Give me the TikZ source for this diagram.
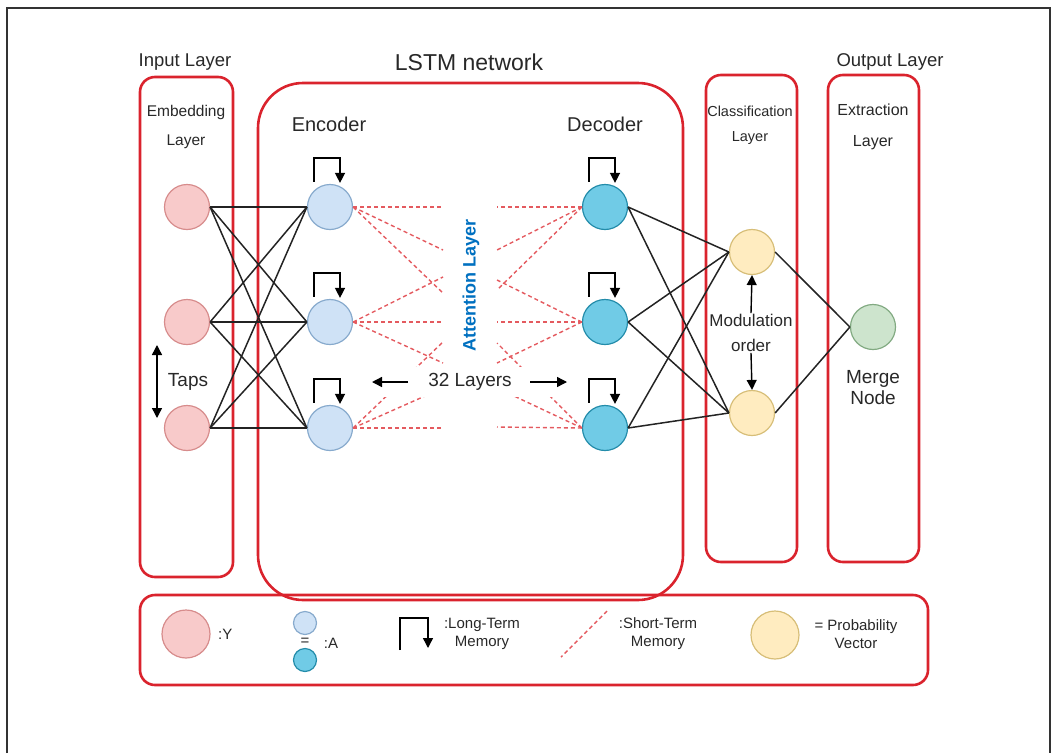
\documentclass[tikz,border=0pt]{standalone}
\usepackage{fontspec}
\setmainfont{Liberation Sans}
\usetikzlibrary{arrows.meta,calc}

\definecolor{boxred}{RGB}{218,35,45}
\definecolor{dashred}{RGB}{228,90,95}
\definecolor{edgegray}{RGB}{35,35,35}
\definecolor{txtgray}{RGB}{40,40,40}
\definecolor{pinkfill}{RGB}{248,202,202}
\definecolor{pinkdraw}{RGB}{215,140,140}
\definecolor{encfill}{RGB}{207,226,246}
\definecolor{encdraw}{RGB}{135,170,205}
\definecolor{decfill}{RGB}{112,203,230}
\definecolor{decdraw}{RGB}{35,140,170}
\definecolor{yelfill}{RGB}{255,236,192}
\definecolor{yeldraw}{RGB}{215,190,120}
\definecolor{grnfill}{RGB}{205,228,205}
\definecolor{grndraw}{RGB}{130,170,130}
\definecolor{attblue}{RGB}{0,112,192}

\newcommand\fsz[2]{\fontsize{#1}{#2}\selectfont}

\tikzset{
  layerbox/.style={draw=boxred, line width=2.6pt, rounded corners=15pt},
  neuron/.style={circle, minimum size=45pt, inner sep=0pt, line width=1.2pt},
  inp/.style={neuron, fill=pinkfill, draw=pinkdraw},
  enc/.style={neuron, fill=encfill, draw=encdraw},
  dec/.style={neuron, fill=decfill, draw=decdraw},
  prob/.style={neuron, fill=yelfill, draw=yeldraw},
  mrg/.style={neuron, fill=grnfill, draw=grndraw},
  wire/.style={draw=edgegray, line width=1.5pt},
  stm/.style={draw=dashred, line width=1.4pt, dash pattern=on 4pt off 3pt},
  ltm/.style={draw=black, line width=1.4pt, -{Triangle[length=10pt,width=10pt]}},
  lbl/.style={text=txtgray, inner sep=1pt, align=center},
}

\begin{document}
\begin{tikzpicture}[x=1pt, y=-1pt]
  \useasboundingbox (0,0) rectangle (1055,753);

  % frame
  \draw[draw=black!80, line width=1.6pt] (7,753) -- (7,8) -- (1050,8) -- (1050,753);

  % layer boxes
  \draw[layerbox] (140,77) rectangle (233,577);
  \draw[layerbox, rounded corners=45pt] (258,83) rectangle (683,600);
  \draw[layerbox] (706,75) rectangle (797,562);
  \draw[layerbox] (828,75) rectangle (919,562);
  \draw[layerbox] (140,595) rectangle (928,685);

  % headings
  \node[lbl, font=\fsz{18.5}{20}] (inhead) at (185,62) {Input Layer};
  \node[lbl, font=\fsz{23}{25}] (lstmhead) at (469,62) {LSTM network};
  \node[lbl, font=\fsz{18.5}{20}] (outhead) at (890,62) {Output Layer};
  \node[lbl, font=\fsz{15.5}{29}] (emb) at (186,127) {Embedding\\Layer};
  \node[lbl, font=\fsz{20}{22}] (enclbl) at (329,124) {Encoder};
  \node[lbl, font=\fsz{20}{22}] (declbl) at (605,124) {Decoder};
  \node[lbl, font=\fsz{14.5}{25}] (cls) at (750,125) {Classification\\Layer};
  \node[lbl, font=\fsz{16}{31}] (ext) at (873,127) {Extraction\\Layer};

  % units
  \foreach \n/\y in {1/207, 2/322, 3/428} {
    \node[inp] (i\n) at (187,\y) {};
    \node[enc] (e\n) at (330,\y) {};
    \node[dec] (d\n) at (605,\y) {};
  }
  \node[prob] (p1) at (752,252) {};
  \node[prob] (p2) at (752,413) {};
  \node[mrg] (g) at (873,327) {};

  % full connections
  \foreach \a in {1,2,3}
    \foreach \b in {1,2,3}
      \draw[wire] (i\a.east) -- (e\b.west);
  \foreach \a in {1,2,3}
    \foreach \b in {1,2}
      \draw[wire] (d\a.east) -- (p\b.west);
  \draw[wire] (p1.east) -- (g.west);
  \draw[wire] (p2.east) -- (g.west);

  % long-term memory loops
  \foreach \n in {e1,e2,e3,d1,d2,d3}
    \draw[ltm] ($(\n.north)+(-16,-2)$) -- ++(0,-24) -| ($(\n.north)+(10,-1)$);

  % attention (short-term memory)
  \foreach \n/\ts in {1/{207,250,293}, 2/{277,322,363}, 3/{342,388,428}}
    \foreach \t in \ts {
      \coordinate (atl\n-\t) at (443,\t);
      \draw[stm] (e\n.east) -- (atl\n-\t);
    }
  \foreach \n/\ts in {1/{207,250,290}, 2/{280,322,363}, 3/{343,388,427}}
    \foreach \t in \ts {
      \coordinate (atr\n-\t) at (497,\t);
      \draw[stm] (d\n.west) -- (atr\n-\t);
    }
  \node[font=\fsz{18}{20}\bfseries, text=attblue, rotate=90] (att) at (471,285) {Attention Layer};

  % 32 layers
  \node[lbl, fill=white, font=\fsz{19}{21}, minimum width=210pt, minimum height=30pt] (lay) at (470,382) {32 Layers};
  \coordinate (lay-l0) at (408,382);
  \coordinate (lay-l1) at (372,382);
  \coordinate (lay-r0) at (530,382);
  \coordinate (lay-r1) at (567,382);
  \draw[ltm] (lay-l0) -- (lay-l1);
  \draw[ltm] (lay-r0) -- (lay-r1);

  % taps
  \node[lbl, font=\fsz{19}{21}] (taps) at (188,382) {Taps};
  \coordinate (tap-t) at (157,345);
  \coordinate (tap-b) at (157,418);
  \draw[ltm, {Triangle[length=10pt,width=10pt]}-{Triangle[length=10pt,width=10pt]}] (tap-t) -- (tap-b);

  % modulation order
  \node[lbl, font=\fsz{17}{25}] (mod) at (751,333) {Modulation\\order};
  \draw[ltm] (mod.north) -- (p1.south);
  \draw[ltm] (mod.south) -- (p2.north);

  \node[lbl, font=\fsz{19}{21}] (mergelbl) at (873,388) {Merge\\Node};

  % legend
  \node[inp, minimum size=48pt] (ly) at (186,634) {};
  \node[lbl, font=\fsz{15}{18}, anchor=west] (lyt) at (217,634) {:Y};
  \node[enc, minimum size=23pt] (la1) at (305,623) {};
  \node[lbl, font=\fsz{15}{18}] (leq) at (305,642) {=};
  \node[dec, minimum size=23pt] (la2) at (305,660) {};
  \node[lbl, font=\fsz{15}{18}] (lat) at (331,643) {:A};
  \coordinate (ll0) at (400,650);
  \coordinate (ll1) at (428,648);
  \draw[ltm] (ll0) -- ++(0,-32) -| (ll1);
  \node[lbl, font=\fsz{15}{18}] (lltm) at (482,634) {:Long-Term\\Memory};
  \coordinate (ls0) at (607,611);
  \coordinate (ls1) at (561,657);
  \draw[stm] (ls0) -- (ls1);
  \node[lbl, font=\fsz{15}{18}] (lstm) at (658,634) {:Short-Term\\Memory};
  \node[prob, minimum size=48pt] (lp) at (775,635) {};
  \node[lbl, font=\fsz{15}{18}] (lpt) at (856,634) {= Probability\\Vector};
\end{tikzpicture}
\end{document}
